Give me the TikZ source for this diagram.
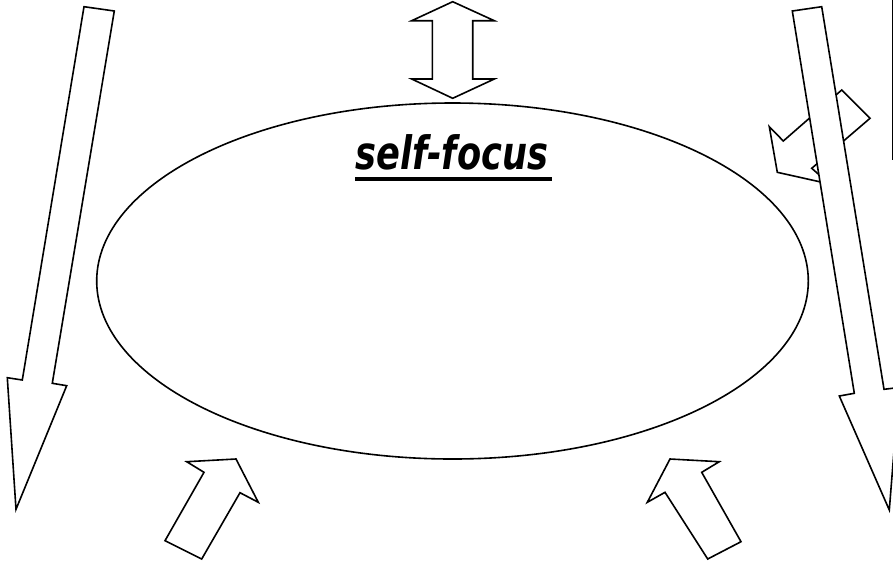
\documentclass[tikz,border=0pt]{standalone}
\usepackage{fontspec}
\setmainfont{DejaVu Sans}
\begin{document}
\begin{tikzpicture}[x=1pt,y=-1pt,
  shape line/.style={draw=black,line width=1.6pt,line join=miter,fill=white},
  titletext/.style={font=\fontsize{46}{52}\selectfont\bfseries\itshape,inner sep=0pt}]
\useasboundingbox (0,0) rectangle (893,560);
\clip (0,0) rectangle (893,560);
\fill[white] (0,0) rectangle (893,560);
% top double arrow
\draw[shape line] (452.7,1.7) -- (494.3,20.7) -- (472.7,20.7) -- (472.7,79) -- (494.3,79)
  -- (452.7,98.3) -- (411.7,79) -- (432.3,79) -- (432.3,20.7) -- (411.7,20.7) -- cycle;
% ellipse
\draw[line width=1.6pt] (452.5,281) ellipse [x radius=355.8, y radius=178];
% title
\node[titletext,anchor=base] (title) at (452,169.3) {\scalebox{0.765}[1]{self-focus}};
\coordinate (ul1) at (355,178.7);
\coordinate (ul2) at (551.7,178.7);
\draw[line width=4pt] (ul1) -- (ul2);
% left long arrow
\draw[shape line] (84,6.7) -- (114.3,11) -- (52.3,383.3) -- (66.7,385.7) -- (16,509.3)
  -- (7.3,377.7) -- (22.3,380) -- cycle;
% small right arrow (behind)
\draw[shape line] (841.7,90) -- (870,118.3) -- (811.7,168.3) -- (829.7,184) -- (777.3,172.3)
  -- (769.3,126.7) -- (783.3,141) -- cycle;
% right long arrow
\draw[shape line] (792.3,11) -- (821.7,6.7) -- (884,389.3) -- (899,387.5) -- (889.3,510)
  -- (839.3,396) -- (854.3,393.3) -- cycle;
% right edge line
\draw[line width=1.6pt] (892.3,0) -- (892.3,160);
% bottom left arrow
\draw[shape line] (165,540.7) -- (204,472.3) -- (186.7,461.7) -- (236,459) -- (258.3,502.3)
  -- (240,492.7) -- (201.7,559) -- cycle;
% bottom right arrow
\draw[shape line] (741,541.7) -- (701.7,472.3) -- (719.3,461.7) -- (670,459) -- (647.3,502.3)
  -- (665,492.3) -- (707.7,559) -- cycle;
\end{tikzpicture}
\end{document}
